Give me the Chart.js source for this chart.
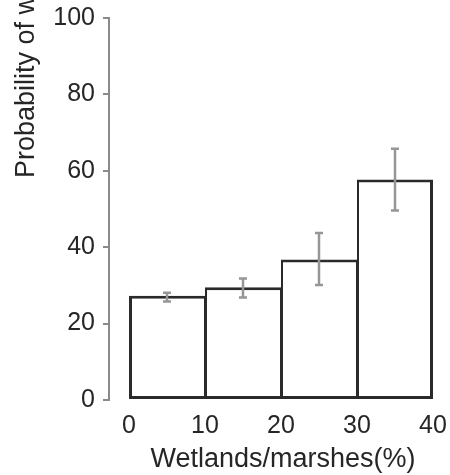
<!DOCTYPE html>
<html>
<head>
<meta charset="utf-8">
<script src="https://cdn.jsdelivr.net/npm/chart.js@4.4.1/dist/chart.umd.min.js"></script>
<style>
  html, body { margin: 0; padding: 0; background: #fff; }
  #wrap { width: 450px; height: 475px; }
</style>
</head>
<body>
<div id="wrap"><canvas id="chart"></canvas></div>
<script>
// bin centres of wetland/marsh share (%), bins are 10 wide
const binCenters = [5, 15, 25, 35];
const probability = [27.3, 29.5, 36.8, 57.7];
const errLow = [25.8, 26.8, 30.1, 49.6];
const errHigh = [28.1, 31.8, 43.7, 65.8];
const xTicks = [0, 10, 20, 30, 40];
const yTicks = [0, 20, 40, 60, 80, 100];

const FONT = "'Liberation Sans', Arial, Helvetica, sans-serif";
const TEXT = "#262626";

const errorBars = {
  id: "errorBars",
  afterDatasetsDraw(chart) {
    const { ctx, scales: { x, y } } = chart;
    ctx.save();
    ctx.strokeStyle = "#969696";
    ctx.lineWidth = 2.5;
    binCenters.forEach((c, i) => {
      const px = x.getPixelForValue(c);
      const lo = y.getPixelForValue(errLow[i]);
      const hi = y.getPixelForValue(errHigh[i]);
      ctx.beginPath();
      ctx.moveTo(px, lo); ctx.lineTo(px, hi);
      ctx.moveTo(px - 4, lo); ctx.lineTo(px + 4, lo);
      ctx.moveTo(px - 4, hi); ctx.lineTo(px + 4, hi);
      ctx.stroke();
    });
    ctx.restore();
  }
};

const axisTitles = {
  id: "axisTitles",
  afterDraw(chart) {
    const { ctx, scales: { x } } = chart;
    ctx.save();
    ctx.fillStyle = TEXT;
    ctx.font = "27px " + FONT;
    ctx.textBaseline = "alphabetic";
    // x title centred under the bars
    ctx.textAlign = "center";
    const cx = (x.getPixelForValue(xTicks[0]) + x.getPixelForValue(xTicks[xTicks.length - 1])) / 2;
    ctx.fillText("Wetlands/marshes(%)", cx + 2, 467);
    // y title runs off the top, as in the source figure
    ctx.textAlign = "left";
    ctx.translate(34, 178);
    ctx.rotate(-Math.PI / 2);
    ctx.fillText("Probability of wetland occurrence(%)", 0, 0);
    ctx.restore();
  }
};

const last = binCenters.length - 1;

new Chart(document.getElementById("chart"), {
  type: "bar",
  data: {
    datasets: [{
      data: binCenters.map((c, i) => ({ x: c, y: probability[i] })),
      backgroundColor: "#fff",
      borderColor: "#2a2a2a",
      // neighbouring bars share one outline instead of doubling it
      borderWidth: (c) => ({
        top: 3,
        bottom: 3,
        left: c.dataIndex === 0 ? 3 : 2,
        right: c.dataIndex === last ? 3 : 1
      }),
      borderSkipped: false,
      barPercentage: 1,
      categoryPercentage: 1,
      inflateAmount: 0,
      clip: false
    }]
  },
  options: {
    responsive: true,
    maintainAspectRatio: false,
    animation: false,
    layout: { padding: { top: 18, right: 17, left: 0, bottom: 0 } },
    plugins: {
      legend: { display: false },
      tooltip: { enabled: false }
    },
    scales: {
      x: {
        type: "linear",
        min: -2.6316, // leaves the gap between the y axis and the first bar
        max: 40,
        offset: false,
        afterBuildTicks: (s) => { s.ticks = xTicks.map(v => ({ value: v })); },
        afterFit: (s) => { s.height = 75; s.paddingLeft = 0; s.paddingRight = 0; },
        grid: { display: false, drawTicks: false, offset: false },
        border: { display: false },
        ticks: {
          padding: 11,
          font: { family: FONT, size: 25 },
          color: TEXT
        }
      },
      y: {
        min: 0,
        max: 100,
        afterBuildTicks: (s) => { s.ticks = yTicks.map(v => ({ value: v })); },
        afterFit: (s) => { s.width = 109; s.paddingTop = 0; s.paddingBottom = 0; },
        grid: { drawOnChartArea: false, drawTicks: true, tickLength: 6, color: "#8a8a8a", lineWidth: 2 },
        border: { display: true, color: "#8a8a8a", width: 2 },
        ticks: {
          padding: 8,
          font: { family: FONT, size: 25 },
          color: TEXT
        }
      }
    }
  },
  plugins: [errorBars, axisTitles]
});
</script>
</body>
</html>
